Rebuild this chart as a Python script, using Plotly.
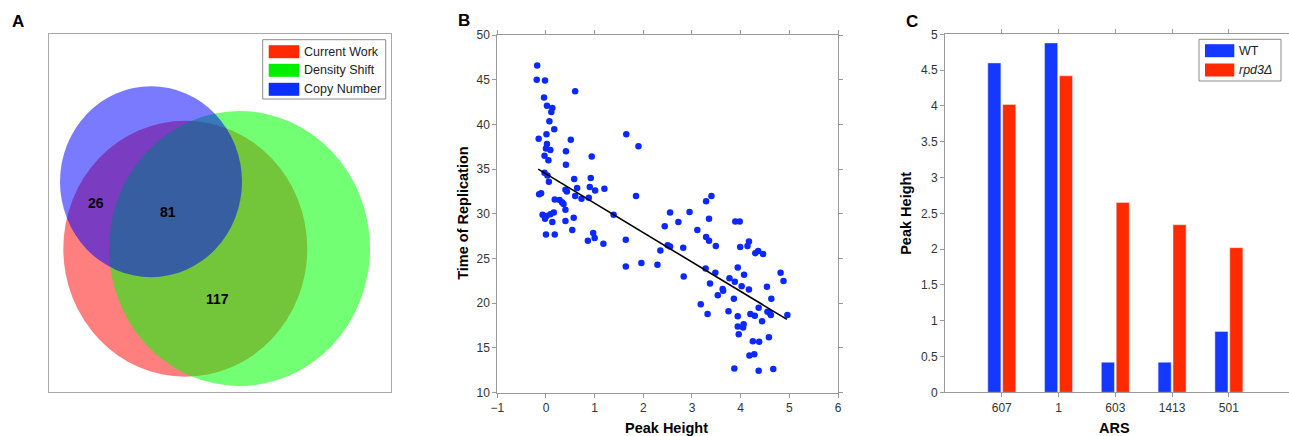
import plotly.graph_objects as go

W, H = 1289, 436
FONT = "Arial, Liberation Sans, sans-serif"

# ---------------- Panel A data (Venn) ----------------
venn_sets = ["Current Work", "Density Shift", "Copy Number"]
venn_fill = ["rgba(255,0,0,0.5)", "rgba(0,255,0,0.55)", "rgba(0,0,255,0.52)"]
venn_swatch = ["#FF2A00", "#00EE00", "#0A30FF"]
venn_cx = [136.0, 190.2, 101.7]
venn_cy = [214.4, 214.2, 147.4]
venn_rx = [122.0, 130.5, 91.0]
venn_ry = [128.0, 137.5, 95.5]
venn_counts = ["26", "81", "117"]
venn_count_x = [46.4, 118.4, 168.0]
venn_count_y = [169.0, 177.4, 264.7]

# ---------------- Panel B data (scatter) ----------------
peak_height = [
    -0.18, -0.19, -0.02, 0.60, -0.04, 0.02, 0.13, 0.11, 0.07, 0.17,
    -0.15, 0.01, 0.51, 1.65, 1.90, 0.02, 0.00, 0.09, -0.03, 0.41,
    0.05, 0.94, 0.41, -0.03, 0.03, 0.58, 0.92, 0.06, 0.90, 0.64,
    1.01, 1.20, 0.40, 0.43, -0.14, -0.10, 0.60, 0.73, 0.88, 1.85,
    0.18, 0.28, 0.33, 0.36, 3.29, 3.40, 0.40,
    -0.07, 0.01, 0.09, 0.16, -0.02, 0.13, 0.40, 0.57, 1.39,
    0.00, 0.18, 0.54, 0.97, 1.00, 0.86, 1.18, 1.64, 1.64, 1.96,
    2.29, 2.35, 2.44, 2.50, 2.55, 2.55, 2.72, 2.95, 2.82, 2.83,
    3.11, 3.29, 3.35, 3.35, 3.18, 3.28, 3.32, 3.37, 3.48, 3.49,
    3.53, 3.63, 3.64, 3.75, 3.77, 3.87, 3.86, 3.88, 3.89, 3.98,
    3.94, 3.94, 3.94, 3.96, 3.99, 4.02, 4.05, 4.06, 4.07, 4.14,
    4.17, 4.17, 4.18, 4.20, 4.25, 4.28, 4.29, 4.30, 4.36, 4.37,
    4.37, 4.38, 4.44, 4.46, 4.54, 4.55, 4.58, 4.60, 4.62, 4.63,
    4.67, 4.82, 4.88, 4.96,
]
rep_time = [
    46.6, 45.0, 44.9, 43.7, 43.0, 42.1, 41.85, 41.4, 40.35, 39.45,
    38.4, 38.9, 38.3, 38.9, 37.55, 37.8, 37.3, 37.15, 36.5, 37.0,
    36.0, 36.4, 35.5, 34.6, 34.3, 33.9, 34.0, 33.6, 33.0, 32.9,
    32.6, 32.8, 32.7, 32.5, 32.2, 32.3, 32.0, 31.7, 31.8, 32.0,
    31.6, 31.55, 31.3, 31.1, 31.4, 32.0, 30.45,
    29.9, 29.75, 29.95, 30.15, 29.45, 29.1, 29.2, 29.55, 29.9,
    27.7, 27.7, 28.2, 27.85, 27.3, 27.0, 26.65, 27.1, 24.1, 24.5,
    24.3, 25.9, 28.6, 26.5, 26.35, 30.15, 29.1, 30.2, 26.2, 23.0,
    28.2, 27.4, 27.0, 29.45, 19.9, 23.9, 18.8, 22.2, 23.4, 26.4,
    20.9, 21.6, 21.4, 19.1, 22.8, 12.7, 20.5, 22.4, 29.15, 29.15,
    24.0, 18.55, 17.4, 16.55, 26.3, 21.9, 17.3, 17.65, 23.2, 26.4,
    26.9, 21.55, 14.15, 18.8, 15.75, 14.3, 18.6, 25.6, 25.85, 19.5,
    12.45, 15.7, 18.0, 25.5, 21.85, 19.05, 16.2, 18.9, 18.7, 20.5,
    12.65, 23.4, 22.5, 18.7,
]
trend_x = [-0.16, 4.95]
trend_y = [35.0, 18.2]

# ---------------- Panel C data (bars) ----------------
ars = ["607", "1", "603", "1413", "501"]
wt = [4.60, 4.88, 0.42, 0.42, 0.85]
rpd3 = [4.02, 4.42, 2.65, 2.34, 2.02]
series_names = ["WT", "<i>rpd3Δ</i>"]
bar_colors = ["#1438FF", "#FF2A00"]


def px(x):
    return x / W


def py(y):
    return 1 - y / H


fig = go.Figure()

# Panel B traces
fig.add_trace(go.Scatter(x=peak_height, y=rep_time, mode="markers",
                         marker=dict(color="#0A28FF", size=6.5),
                         xaxis="x2", yaxis="y2", showlegend=False))
fig.add_trace(go.Scatter(x=trend_x, y=trend_y, mode="lines",
                         line=dict(color="black", width=1.6),
                         xaxis="x2", yaxis="y2", showlegend=False))

# Panel C traces
fig.add_trace(go.Bar(x=ars, y=wt, name="WT", marker=dict(color=bar_colors[0]),
                     xaxis="x3", yaxis="y3", showlegend=False))
fig.add_trace(go.Bar(x=ars, y=rpd3, name="rpd3Δ", marker=dict(color=bar_colors[1]),
                     xaxis="x3", yaxis="y3", showlegend=False))

AXCOL = "#9A9A9A"
TICKFONT = dict(family=FONT, size=12, color="#333333")

shapes = []
annotations = []

# Venn circles
for i in range(3):
    shapes.append(dict(type="circle", xref="x", yref="y",
                       x0=venn_cx[i] - venn_rx[i], x1=venn_cx[i] + venn_rx[i],
                       y0=venn_cy[i] - venn_ry[i], y1=venn_cy[i] + venn_ry[i],
                       fillcolor=venn_fill[i], line=dict(width=0)))
for t, x, y in zip(venn_counts, venn_count_x, venn_count_y):
    annotations.append(dict(text="<b>%s</b>" % t, x=x, y=y, xref="x", yref="y",
                            xanchor="center", yanchor="middle",
                            showarrow=False, font=dict(family=FONT, size=14, color="black")))


def add_legend(box, sw_x, rows, labels, colors, text_x):
    shapes.append(dict(type="rect", xref="paper", yref="paper",
                       x0=px(box[0]), x1=px(box[2]), y0=py(box[3]), y1=py(box[1]),
                       fillcolor="white", line=dict(color="#8A8A8A", width=1)))
    for r, lab, col in zip(rows, labels, colors):
        shapes.append(dict(type="rect", xref="paper", yref="paper",
                           x0=px(sw_x[0]), x1=px(sw_x[1]), y0=py(r + 6.5), y1=py(r - 6.5),
                           fillcolor=col, line=dict(width=0)))
        annotations.append(dict(text=lab, x=px(text_x), y=py(r), xref="paper", yref="paper",
                                xanchor="left", yanchor="middle", showarrow=False,
                                font=dict(family=FONT, size=12.5, color="#222222")))


add_legend((262.7, 39.7, 385.7, 99.0), (268.7, 299.3), [51.7, 70.3, 89.3],
           venn_sets, venn_swatch, 302.0)
add_legend((1199.0, 39.3, 1281.0, 81.0), (1205.0, 1234.3), [50.7, 70.0],
           series_names, bar_colors, 1236.5)

# Panel letters
for letter, x, y in [("A", 17.5, 21.5), ("B", 464.0, 20.5), ("C", 912.0, 21.5)]:
    annotations.append(dict(text="<b>%s</b>" % letter, x=px(x), y=py(y), xref="paper", yref="paper",
                            xanchor="center", yanchor="middle",
                            showarrow=False, font=dict(family=FONT, size=17, color="black")))

# Axis titles
for text, x, y, ang in [("Time of Replication", 463.0, 213.8, -90),
                        ("Peak Height", 666.7, 428.0, 0),
                        ("Peak Height", 906.5, 213.3, -90),
                        ("ARS", 1114.0, 428.0, 0)]:
    annotations.append(dict(text="<b>%s</b>" % text, x=px(x), y=py(y), xref="paper", yref="paper",
                            xanchor="center", yanchor="middle",
                            showarrow=False, textangle=ang,
                            font=dict(family=FONT, size=14.5, color="black")))

common = dict(showline=True, linecolor=AXCOL, linewidth=1, mirror="ticks",
              ticks="outside", ticklen=4, tickcolor=AXCOL, tickfont=TICKFONT,
              showgrid=False, zeroline=False, automargin=False)

fig.update_layout(
    width=W, height=H, autosize=False, margin=dict(l=0, r=0, t=0, b=0, pad=0, autoexpand=False),
    paper_bgcolor="white", plot_bgcolor="white",
    font=dict(family=FONT),
    showlegend=False,
    barmode="group", bargap=0.476, bargroupgap=0.12,
    xaxis=dict(domain=[px(49.3), px(390.7)], range=[0, 341.4], showline=True, mirror=True,
               linecolor="#A8A8A8", linewidth=1, showticklabels=False, ticks="",
               showgrid=False, zeroline=False, anchor="y", automargin=False),
    yaxis=dict(domain=[py(392.0), py(34.3)], range=[357.7, 0], showline=True, mirror=True,
               linecolor="#A8A8A8", linewidth=1, showticklabels=False, ticks="",
               showgrid=False, zeroline=False, anchor="x", automargin=False),
    xaxis2=dict(domain=[px(497.3), px(838.0)], range=[-1, 6], dtick=1, anchor="y2", **common),
    yaxis2=dict(domain=[py(392.7), py(35.0)], range=[10, 50], dtick=5, anchor="x2", **common),
    xaxis3=dict(domain=[px(945.0), px(1288.5)], range=[-1, 5.05], type="category",
                anchor="y3", **common),
    yaxis3=dict(domain=[py(392.3), py(34.3)], range=[0, 5], dtick=0.5, anchor="x3", **common),
    shapes=shapes, annotations=annotations,
)

fig.write_html("out.html",
               post_script="document.body.style.margin='0';"
                           "document.documentElement.style.overflow='hidden';"
                           "document.body.style.overflow='hidden';")
